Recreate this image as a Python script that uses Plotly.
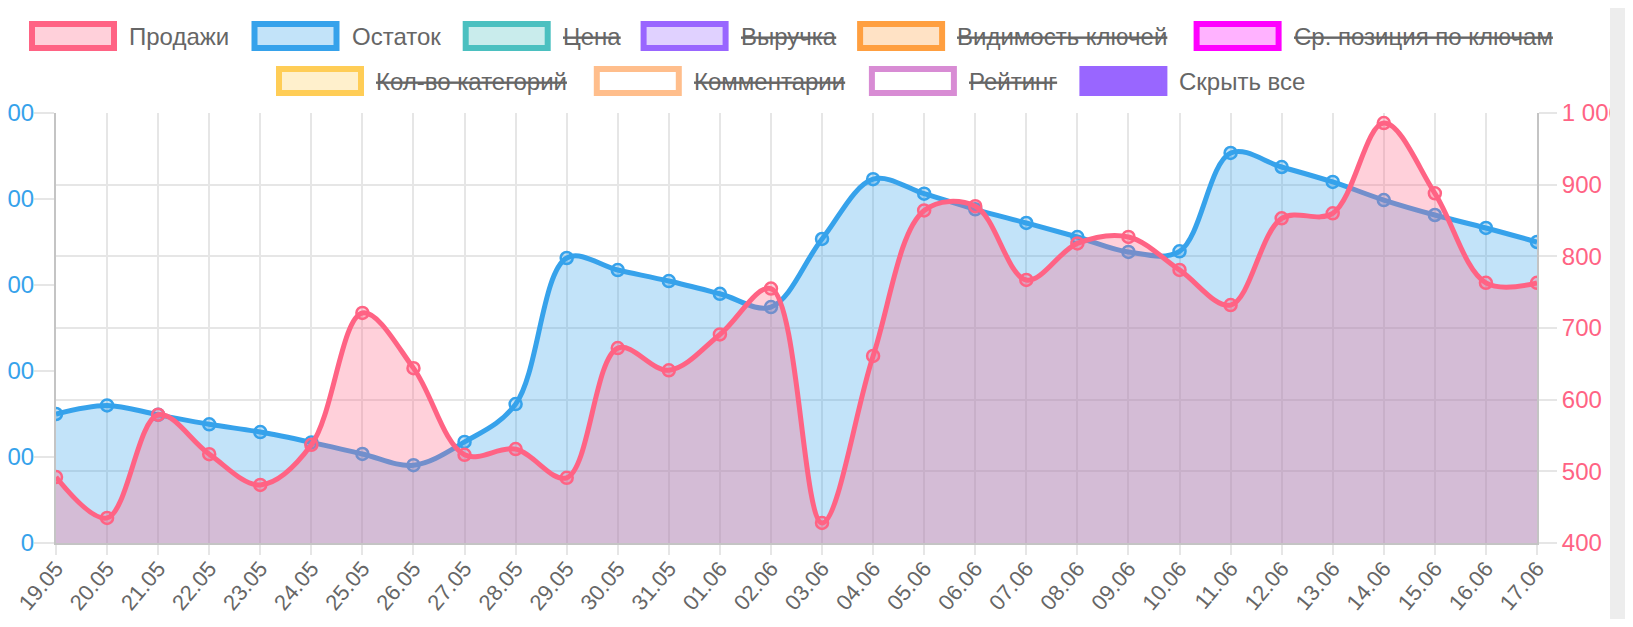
import plotly.graph_objects as go

# ---------------- data ----------------
categories = ["19.05", "20.05", "21.05", "22.05", "23.05", "24.05", "25.05", "26.05",
              "27.05", "28.05", "29.05", "30.05", "31.05", "01.06", "02.06", "03.06",
              "04.06", "05.06", "06.06", "07.06", "08.06", "09.06", "10.06", "11.06",
              "12.06", "13.06", "14.06", "15.06", "16.06", "17.06"]

sales = [492, 435, 579, 524, 481, 537, 721, 644, 523, 531, 491, 672, 641, 691, 755,
         428, 661, 864, 870, 767, 818, 827, 781, 732, 853, 860, 986, 888, 763, 763]

stock = [1500, 1600, 1490, 1380, 1290, 1170, 1035, 905, 1175, 1615, 3314, 3174, 3046,
         2898, 2744, 3535, 4230, 4062, 3880, 3721, 3558, 3384, 3392, 4535, 4372, 4198,
         3988, 3814, 3663, 3500]

left_ticks = [0, 1000, 2000, 3000, 4000, 5000]
right_ticks = [400, 500, 600, 700, 800, 900, 1000]

legend_names = ["Продажи", "Остаток", "Цена", "Выручка", "Видимость ключей",
                "Ср. позиция по ключам", "Кол-во категорий", "Комментарии", "Рейтинг",
                "Скрыть все"]
legend_hidden = [False, False, True, True, True, True, True, True, True, False]

# ---------------- styles ----------------
PINK = "rgb(255,99,132)"
PINK_F = "rgba(255,99,132,0.3)"
BLUE = "rgb(54,162,235)"
BLUE_F = "rgba(54,162,235,0.3)"
GRID = "#e6e6e6"
AXLINE = "#c4c4c4"
TXT = "#666666"
FONT = "Liberation Sans, Arial, sans-serif"

legend_border = [PINK, BLUE, "rgb(75,192,192)", "rgb(153,102,255)", "rgb(255,159,64)",
                 "rgb(255,0,255)", "rgb(255,205,86)", "rgb(255,190,140)",
                 "rgb(216,140,212)", "rgb(153,102,255)"]
legend_fill = [PINK_F, BLUE_F, "rgba(75,192,192,0.3)", "rgba(153,102,255,0.3)",
               "rgba(255,159,64,0.3)", "rgba(255,0,255,0.3)", "rgba(255,205,86,0.3)",
               "#ffffff", "#ffffff", "rgb(153,102,255)"]
# outer-left x of each legend box (page px) and row (0/1)
legend_box_x = [29, 251.5, 462.7, 640.6, 857.1, 1193.6, 276, 593.8, 868.9, 1079.4]
legend_row = [0, 0, 0, 0, 0, 0, 1, 1, 1, 1]

# the page body has an 8px margin: the figure is placed at (8, 8)
OFF = 8
W, H = 1633 - 2 * OFF, 627 - 2 * OFF
# plot area in page pixels
PL, PR, PT, PB = 56, 1537, 113, 543
L, R, T, B = PL - OFF, PR - OFF, PT - OFF, PB - OFF


def fx(x):  # page px -> paper x
    return (x - OFF - L) / (R - L)


def fy(y):  # page px -> paper y
    return (B - (y - OFF)) / (B - T)


fig = go.Figure()

fig.add_trace(go.Scatter(
    x=categories, y=stock, name="Остаток", yaxis="y",
    mode="lines+markers",
    line=dict(color=BLUE, width=5, shape="spline", smoothing=1.0),
    marker=dict(size=12, color=BLUE_F, line=dict(color=BLUE, width=2.5)),
    fill="tozeroy", fillcolor=BLUE_F, hoverinfo="skip", showlegend=False,
))

fig.add_trace(go.Scatter(
    x=categories, y=sales, name="Продажи", yaxis="y2",
    mode="lines+markers",
    line=dict(color=PINK, width=5, shape="spline", smoothing=1.0),
    marker=dict(size=12, color=PINK_F, line=dict(color=PINK, width=2.5)),
    fill="tozeroy", fillcolor=PINK_F, hoverinfo="skip", showlegend=False,
))

shapes = []
annotations = []
row_top = [21, 66]
for name, hid, bc, fc, bx, row in zip(legend_names, legend_hidden, legend_border,
                                      legend_fill, legend_box_x, legend_row):
    y0 = row_top[row]
    shapes.append(dict(
        type="rect", xref="paper", yref="paper", layer="above",
        x0=fx(bx + 3), x1=fx(bx + 85), y0=fy(y0 + 3), y1=fy(y0 + 27),
        line=dict(color=bc, width=6), fillcolor=fc,
    ))
    label = f"<s>{name}</s>" if hid else name
    annotations.append(dict(
        xref="paper", yref="paper", x=fx(bx + 98), y=fy(y0 + 15),
        xanchor="left", yanchor="middle", showarrow=False, text=label,
        font=dict(family=FONT, size=24, color=TXT),
    ))

# scrollbar-like strip at the right edge
shapes.append(dict(type="rect", xref="paper", yref="paper", layer="above",
                   x0=fx(1610), x1=fx(1640), y0=fy(-5), y1=fy(640),
                   line=dict(width=0), fillcolor="#ededed"))

fig.update_layout(
    width=W, height=H,
    margin=dict(l=L, r=W - R, t=T, b=H - B, autoexpand=False),
    paper_bgcolor="white", plot_bgcolor="white",
    separators=". ",
    font=dict(family=FONT, color=TXT),
    showlegend=False,
    shapes=shapes, annotations=annotations,
    xaxis=dict(
        type="category", range=[0, len(categories) - 1],
        showgrid=True, gridcolor=GRID, gridwidth=2,
        ticks="outside", ticklen=10, tickcolor=GRID, tickwidth=2,
        tickangle=-50, tickfont=dict(size=22, color=TXT, family=FONT),
        ticklabelstandoff=-8,
        showline=True, linecolor=AXLINE, linewidth=2, zeroline=False,
    ),
    yaxis=dict(
        range=[0, 5000], tickvals=left_ticks, tickformat=",d",
        showgrid=False, zeroline=False,
        ticks="outside", ticklen=20, tickcolor=GRID, tickwidth=2,
        tickfont=dict(size=24, color=BLUE, family=FONT),
        ticklabelstandoff=-5,
        showline=True, linecolor=AXLINE, linewidth=2,
    ),
    yaxis2=dict(
        range=[400, 1000], tickvals=right_ticks, tickformat=",d",
        overlaying="y", side="right",
        showgrid=True, gridcolor=GRID, gridwidth=2, zeroline=False,
        ticks="outside", ticklen=18, tickcolor=GRID, tickwidth=2,
        tickfont=dict(size=24, color=PINK, family=FONT),
        showline=True, linecolor=AXLINE, linewidth=2,
    ),
)

fig.write_html("out.html")
